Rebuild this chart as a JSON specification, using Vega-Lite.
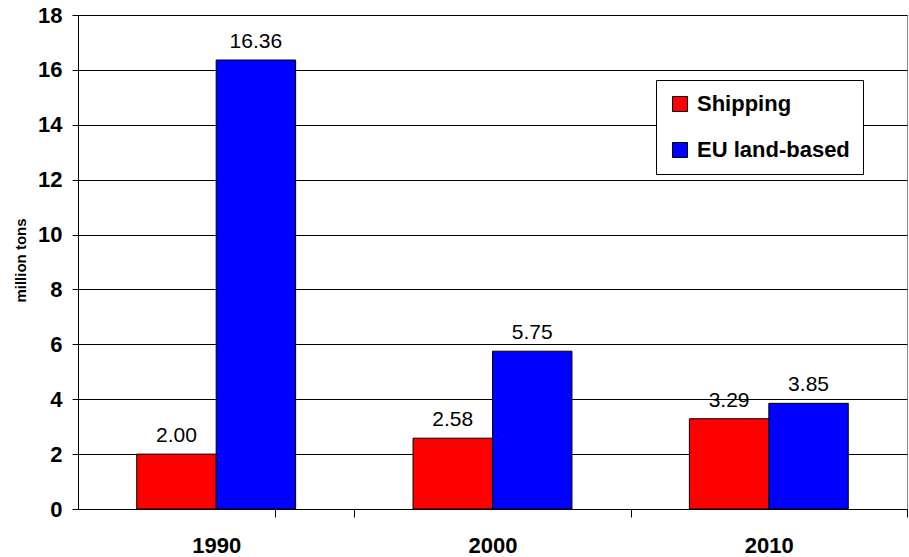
{
  "$schema": "https://vega.github.io/schema/vega-lite/v6.json",
  "width": 829,
  "height": 494,
  "autosize": {"type": "none"},
  "padding": {"left": 78, "top": 15, "right": 2, "bottom": 48},
  "background": "white",
  "config": {
    "font": "Liberation Sans",
    "view": {"stroke": "#888", "strokeWidth": 1},
    "axis": {"domainColor": "black", "tickColor": "black", "labelColor": "black", "titleColor": "black"}
  },
  "data": {
    "values": [
      {"year": "1990", "series": "Shipping", "tons": 2.00},
      {"year": "1990", "series": "EU land-based", "tons": 16.36},
      {"year": "2000", "series": "Shipping", "tons": 2.58},
      {"year": "2000", "series": "EU land-based", "tons": 5.75},
      {"year": "2010", "series": "Shipping", "tons": 3.29},
      {"year": "2010", "series": "EU land-based", "tons": 3.85}
    ]
  },
  "encoding": {
    "x": {
      "field": "year",
      "type": "nominal",
      "scale": {"paddingInner": 0.425, "paddingOuter": 0.2125},
      "axis": {
        "title": null,
        "labelAngle": 0,
        "labelFontSize": 22,
        "labelFontWeight": "bold",
        "labelPadding": 18,
        "tickSize": 8,
        "tickOffset": 138.17,
        "labelOffset": -138.17,
        "tickExtra": true,
        "grid": false
      }
    },
    "xOffset": {
      "field": "series",
      "type": "nominal",
      "sort": ["Shipping", "EU land-based"],
      "scale": {"paddingInner": 0, "paddingOuter": 0}
    },
    "y": {
      "field": "tons",
      "type": "quantitative",
      "scale": {"domain": [0, 18], "nice": false},
      "axis": {
        "title": "million tons",
        "titleFontSize": 15,
        "titleFontWeight": "bold",
        "titleX": -50,
        "titleY": 245,
        "titleBaseline": "bottom",
        "values": [0, 2, 4, 6, 8, 10, 12, 14, 16, 18],
        "labelFontSize": 22,
        "labelFontWeight": "bold",
        "labelPadding": 10,
        "tickSize": 6,
        "grid": true,
        "gridColor": "black",
        "gridOpacity": 1,
        "gridWidth": 1
      }
    }
  },
  "layer": [
    {
      "mark": {"type": "bar", "stroke": "black", "strokeWidth": 1},
      "encoding": {
        "color": {
          "field": "series",
          "type": "nominal",
          "scale": {"domain": ["Shipping", "EU land-based"], "range": ["#FF0000", "#0000FF"]},
          "legend": {
            "title": null,
            "orient": "none",
            "legendX": 578,
            "legendY": 65,
            "direction": "vertical",
            "fillColor": "white",
            "strokeColor": "black",
            "padding": 13,
            "rowPadding": 24,
            "symbolType": "square",
            "symbolSize": 225,
            "symbolStrokeColor": "black",
            "symbolStrokeWidth": 1,
            "symbolOpacity": 1,
            "labelFontSize": 22,
            "labelFontWeight": "bold",
            "labelColor": "black",
            "labelOffset": 6
          }
        }
      }
    },
    {
      "mark": {"type": "text", "fontSize": 21, "baseline": "alphabetic", "dy": -12, "color": "black"},
      "encoding": {
        "text": {"field": "tons", "type": "quantitative", "format": ".2f"}
      }
    }
  ]
}
